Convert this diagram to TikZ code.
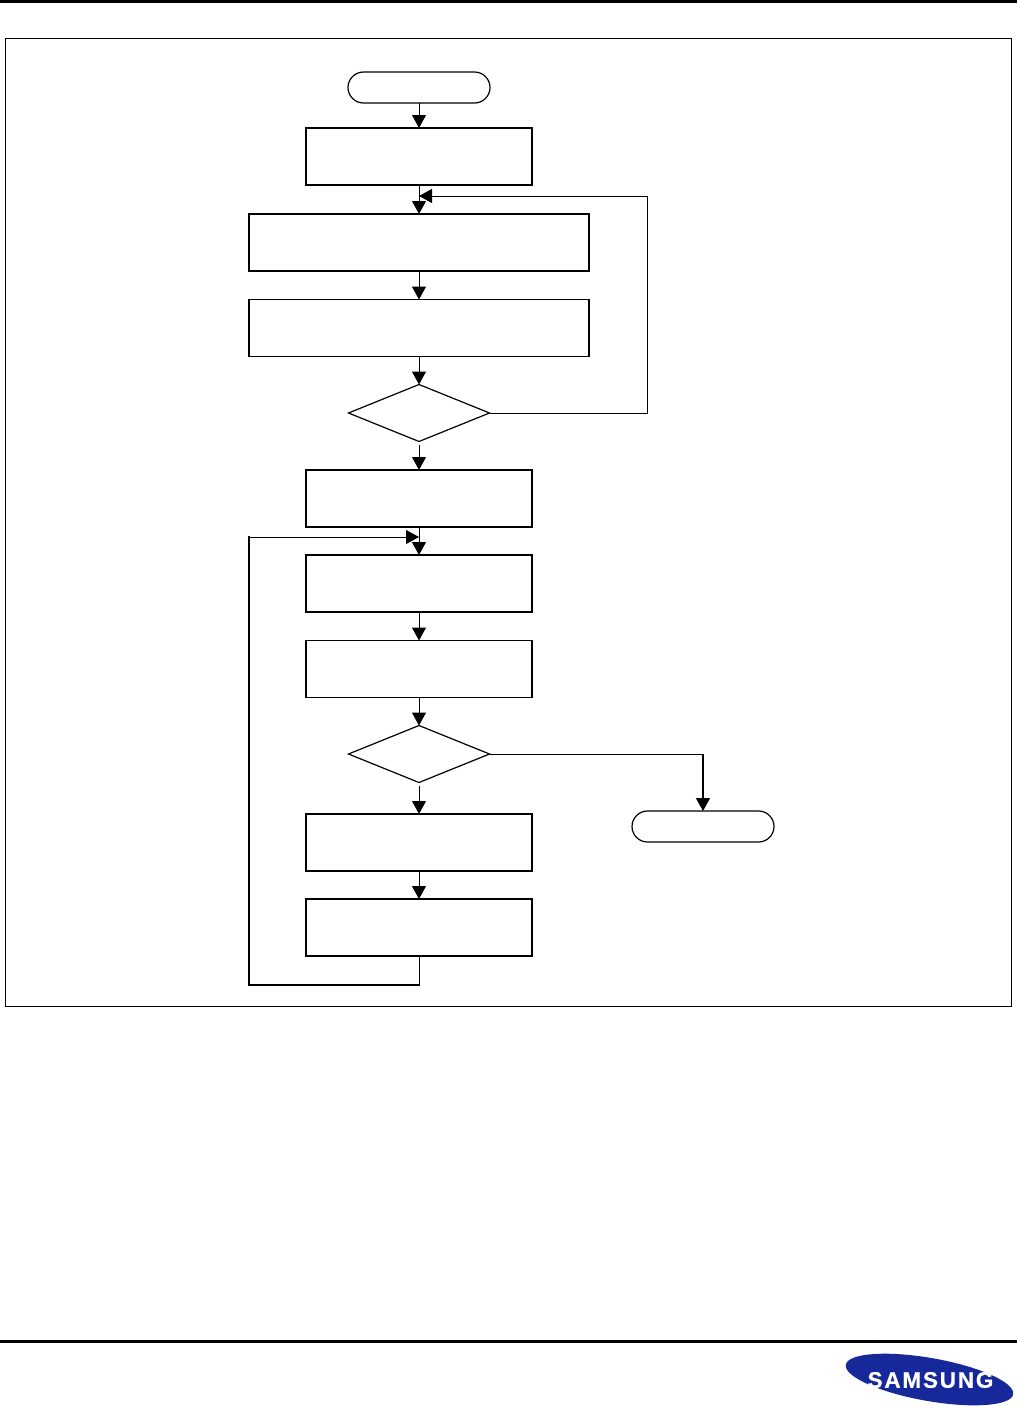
\documentclass[tikz,border=0pt]{standalone}
\usepackage{fontspec}
\usetikzlibrary{arrows.meta,shapes.geometric,shapes.misc}
\newfontfamily\logofont[LetterSpace=8,BoldFont={Liberation Sans Bold},BoldFeatures={FakeBold=0.6}]{Liberation Sans}
\definecolor{logoblue}{HTML}{16289A}
\begin{document}
\begin{tikzpicture}[x=1pt,y=-1pt,
      line width=1pt,
      flow/.style={-{Triangle[width=14pt,length=13pt]}},
      heavy/.style={line width=1.6pt},
      procbox/.style={draw,rectangle,line width=1.5pt,inner sep=0pt,outer sep=0pt,minimum width=226pt,minimum height=57pt},
      widebox/.style={procbox,minimum width=340pt},
      termbox/.style={draw,rounded rectangle,line width=1.2pt,inner sep=0pt,outer sep=0pt,minimum width=142pt,minimum height=31pt},
      decbox/.style={draw,diamond,line width=1.2pt,inner sep=0pt,outer sep=0pt,minimum width=141pt,minimum height=57pt}]
      \useasboundingbox (0,0) rectangle (1017,1406);
      % page rules and frame
      \draw[line width=3pt] (0,1.5)--(1017,1.5);
      \draw[line width=3pt] (0,1341)--(1017,1341);
      \draw[line width=1pt] (5.5,38.5)rectangle(1011.5,1006);
      % blocks
      \path (419,87.5) node[termbox] (start) {};
      \path (419,156.5) node[procbox] (initA) {};
      \path (419,242.5) node[widebox] (loadA) {};
      \path (419,328) node[widebox] (runA) {};
      \path (419,413) node[decbox] (testA) {};
      \path (419,498.5) node[procbox] (initB) {};
      \path (419,583.5) node[procbox] (loadB) {};
      \path (419,669) node[procbox] (runB) {};
      \path (419,754) node[decbox] (testB) {};
      \path (419,842.5) node[procbox] (stepB) {};
      \path (419,927.5) node[procbox] (saveB) {};
      \path (703,826.5) node[termbox] (stop) {};
      % joins on the main line
      \coordinate (joinA) at (419,196);
      \coordinate (joinB) at (419,537);
      \coordinate (cornerA) at (647,196);
      \coordinate (cornerB) at (249,985);
      \coordinate (cornerC) at (249,537);
      \coordinate (cornerD) at (419,985);
      \coordinate (cornerE) at (703,754);
      % main line
      \draw[flow] (start)--(initA);
      \draw[flow] (initA)--(loadA);
      \draw[flow] (loadA)--(runA);
      \draw[flow] (runA)--(testA);
      \draw[flow,shorten <=3pt] (testA)--(initB);
      \draw[flow] (initB)--(loadB);
      \draw[flow] (loadB)--(runB);
      \draw[flow] (runB)--(testB);
      \draw[flow,shorten <=3pt] (testB)--(stepB);
      \draw[flow] (stepB)--(saveB);
      % loops
      \draw[flow] (testA.east)-|(cornerA)--(joinA);
      \draw (saveB.south)--(cornerD);
      \draw[heavy,line cap=rect] (cornerD)--(cornerB)--(cornerC);
      \draw[flow] (cornerC)--(joinB);
      \draw (testB.east)--(cornerE);
      \draw[flow,heavy] (cornerE)--(stop.north);
      % logo
      \path (929.5,1379.5) node[draw=none,fill=logoblue,ellipse,rotate=-10,inner sep=0pt,minimum width=170pt,minimum height=43pt] (logo) {};
      \path (930.5,1380) node[text=white,inner sep=0pt,font=\logofont\bfseries\fontsize{22.5}{22.5}\selectfont] (brand) {SAMSUNG};
     \end{tikzpicture}
\end{document}
